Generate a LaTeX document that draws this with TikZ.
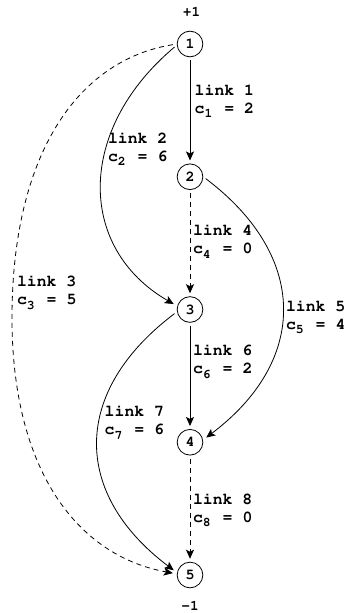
\documentclass[tikz,border=0pt]{standalone}
\usepackage[T1]{fontenc}
\usetikzlibrary{arrows.meta}
\newcommand\cour[2]{\fontencoding{T1}\fontfamily{pcr}\fontseries{b}\fontsize{#1}{#2}\selectfont}
\newcommand\lsub[1]{\makebox[0.6em][l]{\raisebox{-4.5pt}{\fontsize{13}{13}\selectfont #1}}}
\begin{document}
\begin{tikzpicture}[x=1pt,y=1pt,
  vert/.style={circle,draw,line width=0.8pt,minimum size=25.7pt,inner sep=0pt,font=\cour{15}{15}},
  lbl/.style={anchor=base west,inner sep=0pt,align=left,font=\cour{16.5}{18}},
  extlbl/.style={font=\cour{14.5}{14.5},inner sep=0pt,anchor=base},
  link/.style={line width=0.8pt,-{Stealth[length=9pt,width=8pt,inset=2pt]}},
  virt/.style={link,dash pattern=on 5pt off 4pt},
]
\useasboundingbox (0,0) rectangle (350,-613);
\node[vert] (n1) at (190,-44) {1};
\node[vert] (n2) at (190,-176.75) {2};
\node[vert] (n3) at (190,-309.5) {3};
\node[vert] (n4) at (190,-442.25) {4};
\node[vert] (n5) at (190,-575) {5};
\node[extlbl] (p) at (191.5,-16.7) {+1};
\node[extlbl] (m) at (190,-610) {-1};
\coordinate (m3) at (12,-318);

\draw[link,shorten <=3pt,shorten >=3pt] (n1) -- (n2);
\draw[virt,shorten <=3pt,shorten >=3pt] (n2) -- (n3);
\draw[link,shorten <=3pt,shorten >=3pt] (n3) -- (n4);
\draw[virt,shorten <=3pt,shorten >=3pt] (n4) -- (n5);
\draw[link,shorten <=3pt,shorten >=4pt] (n1.185) .. controls +(220:131) and +(150:116) .. (n3.165);
\draw[link,shorten <=3pt,shorten >=4pt] (n3.190) .. controls +(217:132) and +(143:132) .. (n5.170);
\draw[link,shorten <=3pt,shorten >=4pt] (n2.0) .. controls +(-37:132) and +(37:132) .. (n4.10);
\draw[virt,shorten <=4pt,shorten >=4pt] (n1.180) .. controls +(-99,-16) and +(0,164) .. (m3) .. controls +(0,-153) and +(-99,18) .. (n5.175);

\node[lbl] (t1) at (194.5,-113) {link 1\\c\lsub{1} = 2};
\node[lbl] (t2) at (107.8,-161.3) {link 2\\c\lsub{2} = 6};
\node[lbl] (t3) at (16.8,-304.7) {link 3\\c\lsub{3} = 5};
\node[lbl] (t4) at (192.8,-253.7) {link 4\\c\lsub{4} = 0};
\node[lbl] (t5) at (285.8,-329) {link 5\\c\lsub{5} = 4};
\node[lbl] (t6) at (192.8,-373.7) {link 6\\c\lsub{6} = 2};
\node[lbl] (t7) at (104.5,-434.7) {link 7\\c\lsub{7} = 6};
\node[lbl] (t8) at (192.8,-522.3) {link 8\\c\lsub{8} = 0};
\end{tikzpicture}
\end{document}
